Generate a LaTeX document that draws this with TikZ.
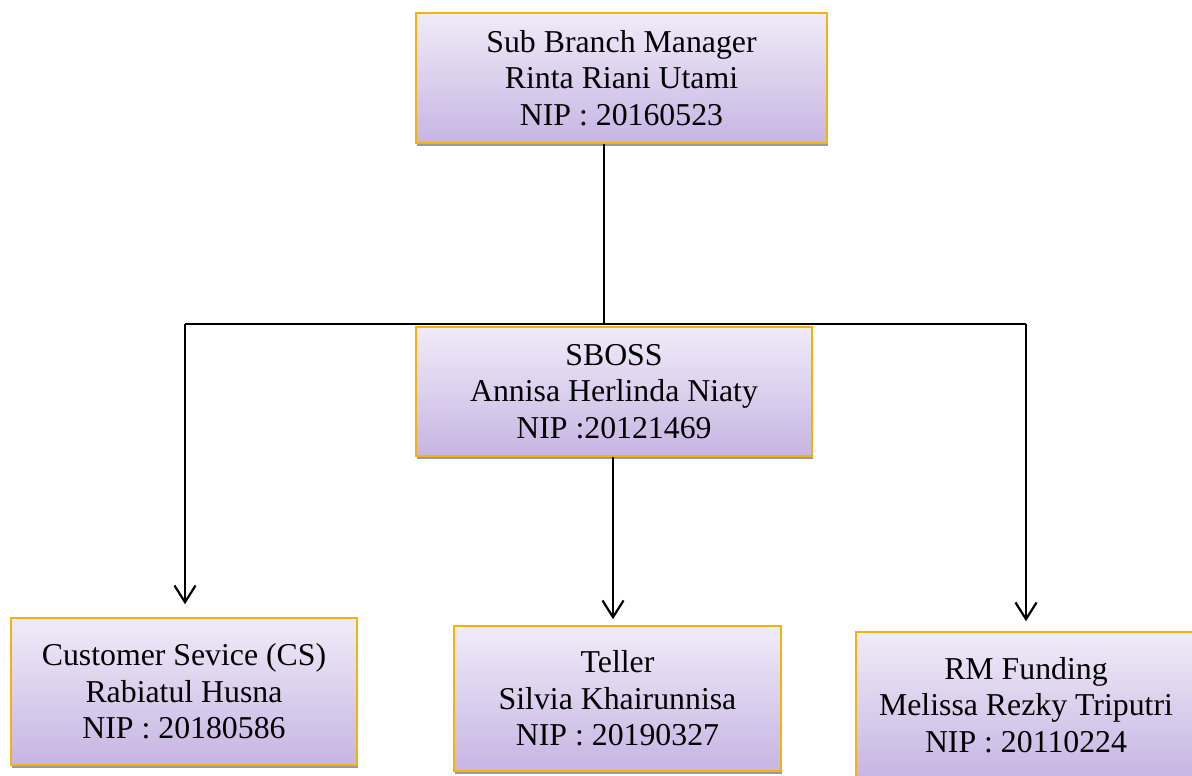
\documentclass[tikz,border=0pt]{standalone}
\usepackage{fontspec}
\setmainfont{Liberation Serif}
\usepackage{tikz}
\usetikzlibrary{shadows,arrows.meta,shapes,positioning}
\definecolor{boxtop}{HTML}{F0EBF8}
\definecolor{boxbottom}{HTML}{C7B5E3}
\definecolor{boxborder}{HTML}{F2B40A}
\definecolor{boxshadow}{HTML}{9A9A9A}

\begin{document}
\begin{tikzpicture}[x=0.02cm, y=-0.02cm,
    orgbox/.style={draw=boxborder, line width=0.9pt, rectangle, top color=boxtop, bottom color=boxbottom,
        align=center, font=\fontsize{18.1}{20.8}\selectfont, inner sep=0pt,
        drop shadow={shadow xshift=0.6pt, shadow yshift=-1.8pt, fill=boxshadow, opacity=1}},
    orgline/.style={line width=1.25pt, black},
    orgarrow/.style={orgline, -{Straight Barb[length=9.5pt, width=12pt, line width=1.25pt]}}]
        \useasboundingbox (0,0) rectangle (1192,776);

        % Boxes placed at their centres
        \node[orgbox, minimum width=8.22cm, minimum height=2.6cm] (manager) at (621.5,78) {Sub Branch Manager\\Rinta Riani Utami\\NIP : 20160523};

        \node[orgbox, minimum width=7.92cm, minimum height=2.58cm] (sboss) at (614,391.5) {SBOSS\\Annisa Herlinda Niaty\\NIP :20121469};

        \node[orgbox, minimum width=6.92cm, minimum height=2.94cm] (cs) at (184,691.5) {Customer Sevice (CS)\\Rabiatul Husna\\NIP : 20180586};

        \node[orgbox, minimum width=6.54cm, minimum height=2.9cm] (teller) at (617.5,698.5) {Teller\\Silvia Khairunnisa\\NIP : 20190327};

        \node[orgbox, minimum width=6.8cm, minimum height=2.92cm] (rmfunding) at (1026,705) {RM Funding\\Melissa Rezky Triputri\\NIP : 20110224};

        % Branch points of the connector line
        \coordinate (split) at (604,324);
        \coordinate (splitleft) at (185,324);
        \coordinate (splitright) at (1026,324);

        % Connectors
        \draw[orgline] (manager.south -| split) -- (split);
        \draw[orgline] (splitleft) -- (splitright);
        \draw[orgarrow, shorten >=13*0.02cm] (splitleft) -- (splitleft |- cs.north);
        \draw[orgarrow, shorten >=10*0.02cm] (splitright) -- (rmfunding.north);
        \draw[orgarrow, shorten >=6*0.02cm] (sboss.south -| 613,0) -- (613,0 |- teller.north);
    \end{tikzpicture}
\end{document}
